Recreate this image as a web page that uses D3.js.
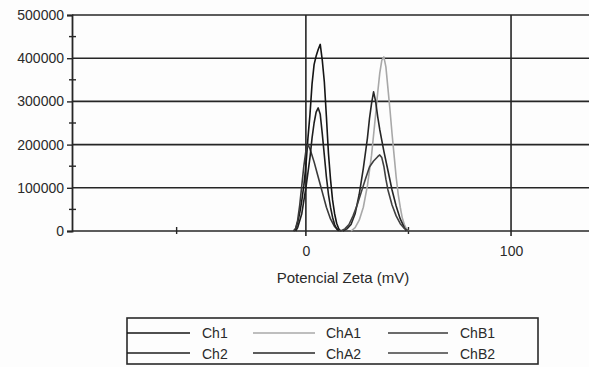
<!DOCTYPE html>
<html>
<head>
<meta charset="utf-8">
<script src="https://cdn.jsdelivr.net/npm/d3@7"></script>
<style>
  html, body { margin: 0; padding: 0; background: #fdfdfd; }
  svg { display: block; }
  text { font-family: "Liberation Sans", Arial, sans-serif; fill: #2a2a2a; }
</style>
</head>
<body>
<svg id="chart" width="589" height="367"></svg>
<script>
// ---- data ----
const seriesNames = ["Ch1", "ChA1", "ChB1", "Ch2", "ChA2", "ChB2"];
const seriesColors = ["#151515", "#a8a8a8", "#3a3a3a", "#1e1e1e", "#262626", "#404040"];

const ch1 = [[-6,0],[-5,5000],[-4,20000],[-3,42000],[-2,70000],[-1,105000],[0,150000],[1,215000],[2,270000],[3,340000],[4,385000],[5,405000],[6,420000],[7,432000],[8,395000],[9,345000],[10,265000],[11,180000],[12,120000],[13,72000],[14,40000],[15,18000],[16,5000],[17,0]];
const chA1 = [[22,0],[24,8000],[26,25000],[28,55000],[30,105000],[32,175000],[34,270000],[35,320000],[36,365000],[37,395000],[38,403000],[39,380000],[40,330000],[41,280000],[42,225000],[43,175000],[44,125000],[45,85000],[46,55000],[47,30000],[48,15000],[49,5000],[50,0]];
const chB1 = [[-6,0],[-5,6000],[-4,25000],[-3,60000],[-2,105000],[-1,150000],[0,185000],[1,200000],[2,190000],[4,160000],[6,125000],[8,90000],[10,55000],[12,28000],[14,10000],[16,2000],[17,0]];
const ch2 = [[-5,0],[-4,8000],[-2,40000],[0,100000],[2,170000],[3,215000],[4,250000],[5,275000],[6,285000],[7,270000],[8,225000],[9,175000],[10,125000],[11,85000],[12,55000],[13,32000],[14,15000],[15,5000],[16,0]];
const chA2 = [[18,0],[20,5000],[22,15000],[24,40000],[26,85000],[28,145000],[30,215000],[31,260000],[32,295000],[33,322000],[34,300000],[35,265000],[36,235000],[37,210000],[38,185000],[40,140000],[42,95000],[44,58000],[46,28000],[48,8000],[49,0]];
const chB2 = [[17,0],[19,5000],[21,15000],[23,35000],[25,60000],[27,90000],[29,120000],[31,148000],[33,162000],[35,172000],[36,176000],[37,170000],[38,150000],[39,120000],[40,95000],[42,60000],[44,35000],[46,17000],[48,6000],[50,0]];
const seriesData = [ch1, chA1, chB1, ch2, chA2, chB2];

const yTicks = [0, 100000, 200000, 300000, 400000, 500000];
const yMinorTicks = [50000, 150000, 250000, 350000, 450000];
const xTicks = [0, 100];
const xMinorTicks = [-63, 50];
const xDomain = [-114, 138];
const yDomain = [0, 500000];
const xTitle = "Potencial Zeta (mV)";

// ---- layout ----
const svg = d3.select("#chart");
const pLeft = 72, pRight = 589, pTop = 15, pBottom = 231;
const x = d3.scaleLinear().domain(xDomain).range([pLeft, pRight]);
const y = d3.scaleLinear().domain(yDomain).range([pBottom, pTop]);
const gridColor = "#262626";

// horizontal gridlines
svg.append("g").selectAll("line").data(yTicks).join("line")
  .attr("x1", pLeft).attr("x2", pRight)
  .attr("y1", d => y(d)).attr("y2", d => y(d))
  .attr("stroke", gridColor).attr("stroke-width", 1.6);

// vertical gridlines at major x ticks
svg.append("g").selectAll("line").data(xTicks).join("line")
  .attr("x1", d => x(d)).attr("x2", d => x(d))
  .attr("y1", pTop).attr("y2", pBottom + 5)
  .attr("stroke", gridColor).attr("stroke-width", 1.6);

// y axis
const yAxis = d3.axisLeft(y).tickValues(yTicks).tickSize(5).tickPadding(3).tickFormat(d3.format("d"));
const gy = svg.append("g").attr("transform", `translate(${pLeft},0)`).call(yAxis);
gy.select(".domain").attr("stroke", gridColor).attr("stroke-width", 1.8);
gy.selectAll(".tick line").attr("stroke", gridColor).attr("stroke-width", 1.4);
gy.selectAll(".tick text").style("font-size", "14px").attr("fill", "#2a2a2a").style("font-family", "Liberation Sans, Arial, sans-serif");
// y minor ticks (crossing)
svg.append("g").selectAll("line").data(yMinorTicks).join("line")
  .attr("x1", pLeft - 3).attr("x2", pLeft + 4)
  .attr("y1", d => y(d)).attr("y2", d => y(d))
  .attr("stroke", gridColor).attr("stroke-width", 1.4);

// x axis
const xAxis = d3.axisBottom(x).tickValues(xTicks).tickSize(0).tickPadding(15).tickFormat(d3.format("d"));
const gx = svg.append("g").attr("transform", `translate(0,${pBottom})`).call(xAxis);
gx.select(".domain").remove();
gx.selectAll(".tick text").style("font-size", "14px").attr("fill", "#2a2a2a").style("font-family", "Liberation Sans, Arial, sans-serif");
// x minor ticks
svg.append("g").selectAll("line").data(xMinorTicks).join("line")
  .attr("x1", d => x(d)).attr("x2", d => x(d))
  .attr("y1", pBottom - 4).attr("y2", pBottom + 3)
  .attr("stroke", gridColor).attr("stroke-width", 1.4);

// x title
svg.append("text").attr("x", 343).attr("y", 283).attr("text-anchor", "middle")
  .style("font-size", "15px").text(xTitle);

// curves
const line = d3.line().x(d => x(d[0])).y(d => y(d[1])).curve(d3.curveLinear);
svg.append("g").selectAll("path").data(seriesData).join("path")
  .attr("d", line)
  .attr("fill", "none")
  .attr("stroke", (d, i) => seriesColors[i])
  .attr("stroke-width", 1.6)
  .attr("stroke-linejoin", "round");

// legend
const lg = svg.append("g");
lg.append("rect").attr("x", 127).attr("y", 318).attr("width", 411).attr("height", 46)
  .attr("fill", "none").attr("stroke", "#2a2a2a").attr("stroke-width", 1.6);
const colLineX = [[127, 190], [253, 315], [388, 448]];
const colTextX = [202, 326, 460];
const rowLineY = [333, 353];
const rowTextY = [338, 359];
seriesNames.forEach((name, i) => {
  const col = i % 3, row = Math.floor(i / 3);
  lg.append("line")
    .attr("x1", colLineX[col][0]).attr("x2", colLineX[col][1])
    .attr("y1", rowLineY[row]).attr("y2", rowLineY[row])
    .attr("stroke", seriesColors[i]).attr("stroke-width", 1.5);
  lg.append("text").attr("x", colTextX[col]).attr("y", rowTextY[row])
    .style("font-size", "14px").text(name);
});
</script>
</body>
</html>
